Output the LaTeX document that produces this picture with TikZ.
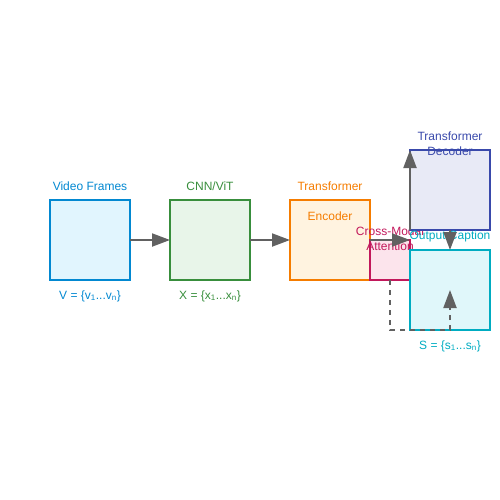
\documentclass[tikz,border=0pt]{standalone}
\usepackage{fontspec}
\setmainfont{Liberation Sans}
\usetikzlibrary{arrows.meta,positioning}

\definecolor{vidline}{HTML}{0288D1}
\definecolor{vidfill}{HTML}{E1F5FE}
\definecolor{cnnline}{HTML}{388E3C}
\definecolor{cnnfill}{HTML}{E8F5E9}
\definecolor{encline}{HTML}{F57C00}
\definecolor{encfill}{HTML}{FFF3E0}
\definecolor{attline}{HTML}{C2185B}
\definecolor{attfill}{HTML}{FCE4EC}
\definecolor{decline}{HTML}{3949AB}
\definecolor{decfill}{HTML}{E8EAF6}
\definecolor{outline}{HTML}{00ACC1}
\definecolor{outfill}{HTML}{E0F7FA}
\definecolor{arrowgray}{HTML}{616161}

\tikzset{
  box/.style={draw, line width=2pt, minimum size=80pt, inner sep=0pt, outer sep=0pt},
  lbl/.style={font=\fontsize{12}{15}\selectfont, inner sep=0pt, align=center},
  flow/.style={draw=arrowgray, line width=2pt, -{Triangle[length=18pt,width=13pt]}}
}

\begin{document}
\begin{tikzpicture}[x=1pt, y=-1pt]
  \useasboundingbox (0,0) rectangle (500,500);

  % video frames
  \node[box, draw=vidline, fill=vidfill] (frames) at (90,240) {};
  \node[lbl, text=vidline] (frameslbl) at (90,186) {Video Frames};
  \node[lbl, text=vidline] (framesset) at (90,296) {V = \{v\textsubscript{1}...v\textsubscript{n}\}};

  % feature extractor
  \node[box, draw=cnnline, fill=cnnfill] (cnn) at (210,240) {};
  \node[lbl, text=cnnline] (cnnlbl) at (210,186) {CNN/ViT};
  \node[lbl, text=cnnline] (cnnset) at (210,296) {X = \{x\textsubscript{1}...x\textsubscript{n}\}};

  % encoder
  \node[box, draw=encline, fill=encfill] (encoder) at (330,240) {};
  \node[lbl, text=encline] (enclbl) at (330,186) {Transformer};
  \node[lbl, text=encline] (enclbltwo) at (330,216) {Encoder};

  % cross-modal attention
  \node[box, minimum size=40pt, draw=attline, fill=attfill] (attn) at (390,260) {};
  \node[lbl, text=attline] (attnlbl) at (390,238.5) {Cross-Modal\\Attention};

  % decoder
  \node[box, draw=decline, fill=decfill] (decoder) at (450,190) {};
  \node[lbl, text=decline] (declbl) at (450,143.5) {Transformer\\Decoder};

  % output
  \node[box, draw=outline, fill=outfill] (output) at (450,290) {};
  \node[lbl, text=outline] (outlbl) at (450,236) {Output Caption};
  \node[lbl, text=outline] (outset) at (450,346) {S = \{s\textsubscript{1}...s\textsubscript{n}\}};

  % connectors
  \coordinate (capin) at (450,290);
  \draw[flow] (frames.east) -- (cnn.west);
  \draw[flow] (cnn.east) -- (encoder.west);
  \draw[flow] (attn.north west) -- (attn.north east);
  \draw[flow] (decoder.south west) -- (decoder.north west);
  \draw[flow] (decoder.south) -- (output.north);
  \draw[flow, dash pattern=on 5pt off 5pt] (attn.south) |- (output.south) -- (capin);
\end{tikzpicture}
\end{document}
